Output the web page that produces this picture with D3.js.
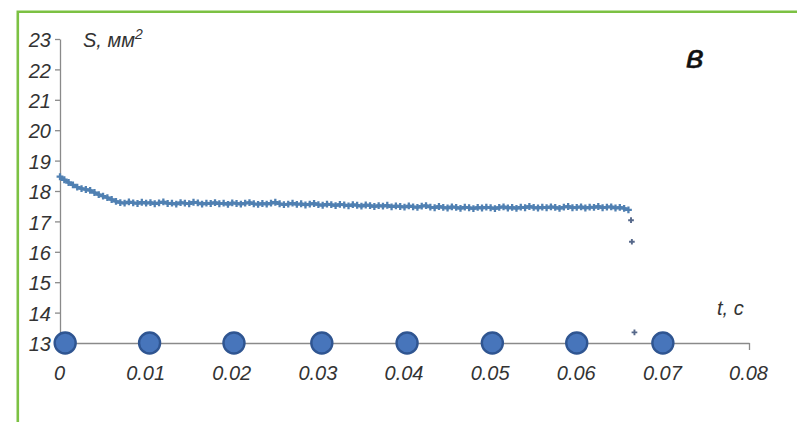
<!DOCTYPE html>
<html>
<head>
<meta charset="utf-8">
<script src="https://cdn.jsdelivr.net/npm/d3@7"></script>
<style>
  html, body { margin: 0; padding: 0; background: #fff; }
  svg { display: block; }
  text { font-family: "Liberation Sans", Arial, sans-serif; font-style: italic; fill: #333; }
</style>
</head>
<body>
<svg id="chart" width="797" height="422"></svg>
<script>
// Cross-section area S (mm^2) over time t (s), sampled every 0.5 ms
const sampleStep = 0.0005;
const areaS = [
  18.47, 18.37, 18.28, 18.20, 18.13, 18.08, 18.05, 18.02, 17.95, 17.88,
  17.83, 17.78, 17.72, 17.66, 17.62, 17.60, 17.64, 17.61, 17.59, 17.63,
  17.60, 17.62, 17.58, 17.61, 17.64, 17.59, 17.60, 17.57, 17.62, 17.60,
  17.58, 17.63, 17.61, 17.57, 17.60, 17.59, 17.62, 17.58, 17.60, 17.56,
  17.61, 17.59, 17.57, 17.60, 17.62, 17.58, 17.56, 17.59, 17.57, 17.60,
  17.63, 17.58, 17.55, 17.57, 17.60, 17.56, 17.58, 17.54, 17.57, 17.59,
  17.55, 17.53, 17.57, 17.55, 17.52, 17.56, 17.54, 17.51, 17.55, 17.53,
  17.50, 17.54, 17.52, 17.49, 17.52, 17.50, 17.53, 17.48, 17.51, 17.49,
  17.47, 17.51, 17.48, 17.46, 17.50, 17.52, 17.47, 17.45, 17.49, 17.46,
  17.44, 17.48, 17.46, 17.43, 17.47, 17.45, 17.42, 17.46, 17.44, 17.47,
  17.45, 17.42, 17.46, 17.48, 17.44, 17.46, 17.43, 17.47, 17.45, 17.49,
  17.46, 17.44, 17.47, 17.45, 17.48, 17.46, 17.43, 17.47, 17.49, 17.45,
  17.46, 17.48, 17.44, 17.47, 17.46, 17.49, 17.45, 17.47, 17.48, 17.44,
  17.46, 17.43, 17.38
];

// Final samples during the break
const breakT = [0.0663, 0.0664, 0.0667];
const breakS = [17.04, 16.33, 13.35];

// Round markers along the time axis
const markerT = [0.0006, 0.0104, 0.0202, 0.0304, 0.0403, 0.0502, 0.0600, 0.0700];

const yTicks = [13, 14, 15, 16, 17, 18, 19, 20, 21, 22, 23];
const xTicks = [0, 0.01, 0.02, 0.03, 0.04, 0.05, 0.06, 0.07, 0.08];
const xTickLabels = ["0", "0.01", "0.02", "0.03", "0.04", "0.05", "0.06", "0.07", "0.08"];

const svg = d3.select("#chart");

// Green frame (top and left edges)
svg.append("path")
  .attr("d", "M17.8,422 V11.8 H797")
  .attr("fill", "none")
  .attr("stroke", "#7cc143")
  .attr("stroke-width", 2.6);

const x = d3.scaleLinear().domain([0, 0.08]).range([60, 749]);
const y = d3.scaleLinear().domain([13, 23]).range([343, 39]);
const axisColor = "#8a8a8a";

// Y axis
const gy = svg.append("g").attr("transform", `translate(${x(0)},0)`)
  .call(d3.axisLeft(y).tickValues(yTicks).tickSize(5).tickSizeOuter(0).tickFormat(d => d));
gy.select(".domain").attr("stroke", axisColor).attr("stroke-width", 1.3);
gy.selectAll(".tick line").attr("stroke", axisColor).attr("stroke-width", 1.3);
gy.selectAll(".tick text")
  .attr("x", -9).attr("dy", "0.38em")
  .attr("font-size", 20)
  .attr("font-family", null)
  .attr("fill", "#2b2b2b");

// X axis
const gx = svg.append("g").attr("transform", `translate(0,${y(13)})`)
  .call(d3.axisBottom(x).tickValues(xTicks).tickSize(7).tickSizeOuter(0)
    .tickFormat((d, i) => xTickLabels[i]));
gx.select(".domain").attr("stroke", axisColor).attr("stroke-width", 1.3);
gx.selectAll(".tick line").attr("stroke", axisColor).attr("stroke-width", 1.3);
gx.selectAll(".tick text")
  .attr("y", 37).attr("dy", 0).attr("dx", -1)
  .attr("font-size", 20)
  .attr("font-family", null)
  .attr("fill", "#2b2b2b");

// Axis titles
const sTitle = svg.append("text").attr("x", 83).attr("y", 47).attr("font-size", 20);
sTitle.append("tspan").text("S, мм");
sTitle.append("tspan").attr("dy", -8).attr("font-size", 14).text("2");

svg.append("text").attr("x", 717).attr("y", 315).attr("font-size", 20).text("t, c");

svg.append("text")
  .attr("x", 686).attr("y", 68)
  .attr("font-size", 34)
  .style("fill", "#111")
  .attr("stroke", "#111")
  .attr("stroke-width", 0.5)
  .text("в");

// Main series: dense samples drawn as a line with "+" markers
const mainPts = areaS.map((s, i) => [i * sampleStep, s]);
const seriesColor = "#5080b2";

svg.append("path")
  .datum(mainPts)
  .attr("fill", "none")
  .attr("stroke", seriesColor)
  .attr("stroke-width", 3)
  .attr("stroke-linejoin", "round")
  .attr("d", d3.line().x(d => x(d[0])).y(d => y(d[1])));

const plus = d3.symbol().type(d3.symbolCross).size(26);
svg.append("g").selectAll("path")
  .data(mainPts)
  .join("path")
  .attr("transform", d => `translate(${x(d[0])},${y(d[1])})`)
  .attr("d", plus)
  .attr("fill", seriesColor);

// Break samples: isolated markers
svg.append("g").selectAll("path")
  .data(breakT.map((t, i) => [t, breakS[i]]))
  .join("path")
  .attr("transform", d => `translate(${x(d[0])},${y(d[1])})`)
  .attr("d", d3.symbol().type(d3.symbolCross).size(18))
  .attr("fill", "#56688a");

// Round markers on the time axis
svg.append("g").selectAll("circle")
  .data(markerT)
  .join("circle")
  .attr("cx", d => x(d))
  .attr("cy", y(13))
  .attr("r", 10.5)
  .attr("fill", "#4775bb")
  .attr("stroke", "#2f5591")
  .attr("stroke-width", 2.4);
</script>
</body>
</html>
